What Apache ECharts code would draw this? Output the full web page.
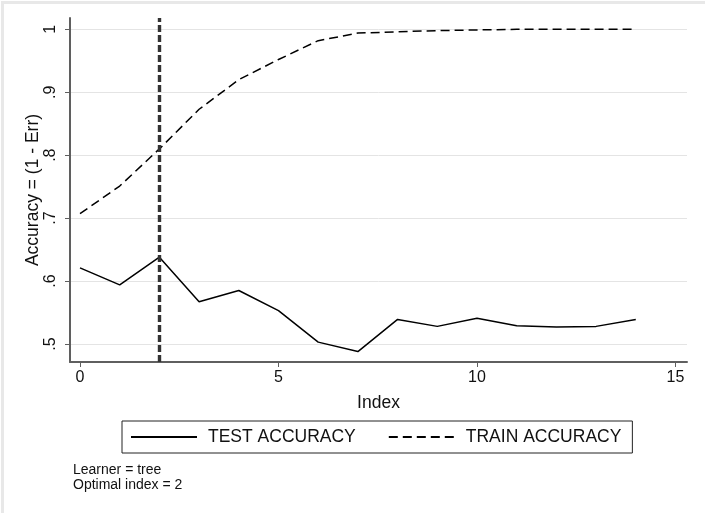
<!DOCTYPE html>
<html>
<head>
<meta charset="utf-8">
<script src="https://cdn.jsdelivr.net/npm/echarts@6/dist/echarts.min.js"></script>
<style>
html,body{margin:0;padding:0;background:#fff;}
#chart{width:705px;height:513px;}
</style>
</head>
<body>
<div id="chart"></div>
<script>
const indices = [0,1,2,3,4,5,6,7,8,9,10,11,12,13,14];
const testAccuracy = [0.621,0.594,0.638,0.567,0.585,0.553,0.503,0.488,0.539,0.528,0.541,0.529,0.527,0.528,0.539];
const trainAccuracy = [0.707,0.751,0.810,0.873,0.920,0.952,0.982,0.994,0.996,0.998,0.999,1.0,1.0,1.0,1.0];
const xTicks = [0,5,10,15];
const yTicks = [0.5,0.6,0.7,0.8,0.9,1.0];
const yTickLabels = ['.5','.6','.7','.8','.9','1'];
const optimalIndex = 2;
const learner = 'tree';

const chart = echarts.init(document.getElementById('chart'), null, {renderer:'canvas'});
const FONT = 'Liberation Sans, Arial, sans-serif';
const axisColor = '#5f5f5f';

const option = {
  animation: false,
  backgroundColor: '#ffffff',
  textStyle: {fontFamily: FONT},
  grid: {left: 70, right: 18, top: 18, bottom: 151, containLabel: false},
  xAxis: {
    type: 'value', min: -0.252, max: 15.29,
    name: 'Index', nameLocation: 'middle', nameGap: 32, nameMoveOverlap: false,
    nameTextStyle: {fontSize: 17.5, color: '#111', fontFamily: FONT},
    axisLine: {show: true, onZero: false, lineStyle: {color: axisColor, width: 2}},
    axisTick: {show: true, length: 5, customValues: xTicks, lineStyle: {color: axisColor, width: 1}},
    axisLabel: {customValues: xTicks, fontSize: 16, color: '#111', margin: 8, fontFamily: FONT},
    splitLine: {show: false}
  },
  yAxis: {
    type: 'value', min: 0.4714, max: 1.018,
    name: 'Accuracy = (1 - Err)', nameLocation: 'middle', nameGap: 28, nameMoveOverlap: false,
    nameTextStyle: {fontSize: 17.5, color: '#111', fontFamily: FONT},
    axisLine: {show: true, onZero: false, lineStyle: {color: axisColor, width: 2}},
    axisTick: {show: true, length: 5, customValues: yTicks, lineStyle: {color: axisColor, width: 1}},
    axisLabel: {
      customValues: yTicks, fontSize: 16, color: '#111', margin: 11, rotate: 90, fontFamily: FONT,
      formatter: function(v){ const i = yTicks.findIndex(t => Math.abs(t - v) < 1e-6); return i >= 0 ? yTickLabels[i] : ''; }
    },
    splitLine: {show: true, lineStyle: {color: '#e4e4e4', width: 1}}
  },
  legend: {
    left: 122, top: 421,
    orient: 'horizontal',
    itemWidth: 66, itemHeight: 18, itemGap: 32,
    padding: [7, 11, 7, 8],
    borderColor: '#222', borderWidth: 1,
    itemStyle: {opacity: 0},
    textStyle: {fontSize: 17.5, color: '#111', fontFamily: FONT, padding: [0,0,0,6]},
    data: ['TEST ACCURACY', 'TRAIN ACCURACY']
  },
  graphic: [
    {type: 'text', left: 73, top: 463, style: {text: 'Learner = ' + learner, font: '14px ' + FONT, fill: '#111'}},
    {type: 'text', left: 73, top: 478, style: {text: 'Optimal index = ' + optimalIndex, font: '14px ' + FONT, fill: '#111'}},
    {type: 'rect', left: 0, top: 0, shape: {width: 704, height: 512}, style: {fill: 'none', stroke: '#e8e8e8', lineWidth: 3}, silent: true}
  ],
  series: [
    {
      name: 'TEST ACCURACY', type: 'line', symbol: 'none', z: 3,
      data: indices.map((x, i) => [x, testAccuracy[i]]),
      lineStyle: {color: '#000', width: 1.5, type: 'solid'},
      itemStyle: {color: '#000'},
      markLine: {
        silent: true, symbol: ['none','none'], label: {show: false},
        lineStyle: {color: '#333', width: 3.4, type: [7,3]},
        data: [{xAxis: optimalIndex}]
      }
    },
    {
      name: 'TRAIN ACCURACY', type: 'line', symbol: 'none', z: 3,
      data: indices.map((x, i) => [x, trainAccuracy[i]]),
      lineStyle: {color: '#000', width: 1.5, type: [9,5]},
      itemStyle: {color: '#000'}
    }
  ]
};
chart.setOption(option);
</script>
</body>
</html>
